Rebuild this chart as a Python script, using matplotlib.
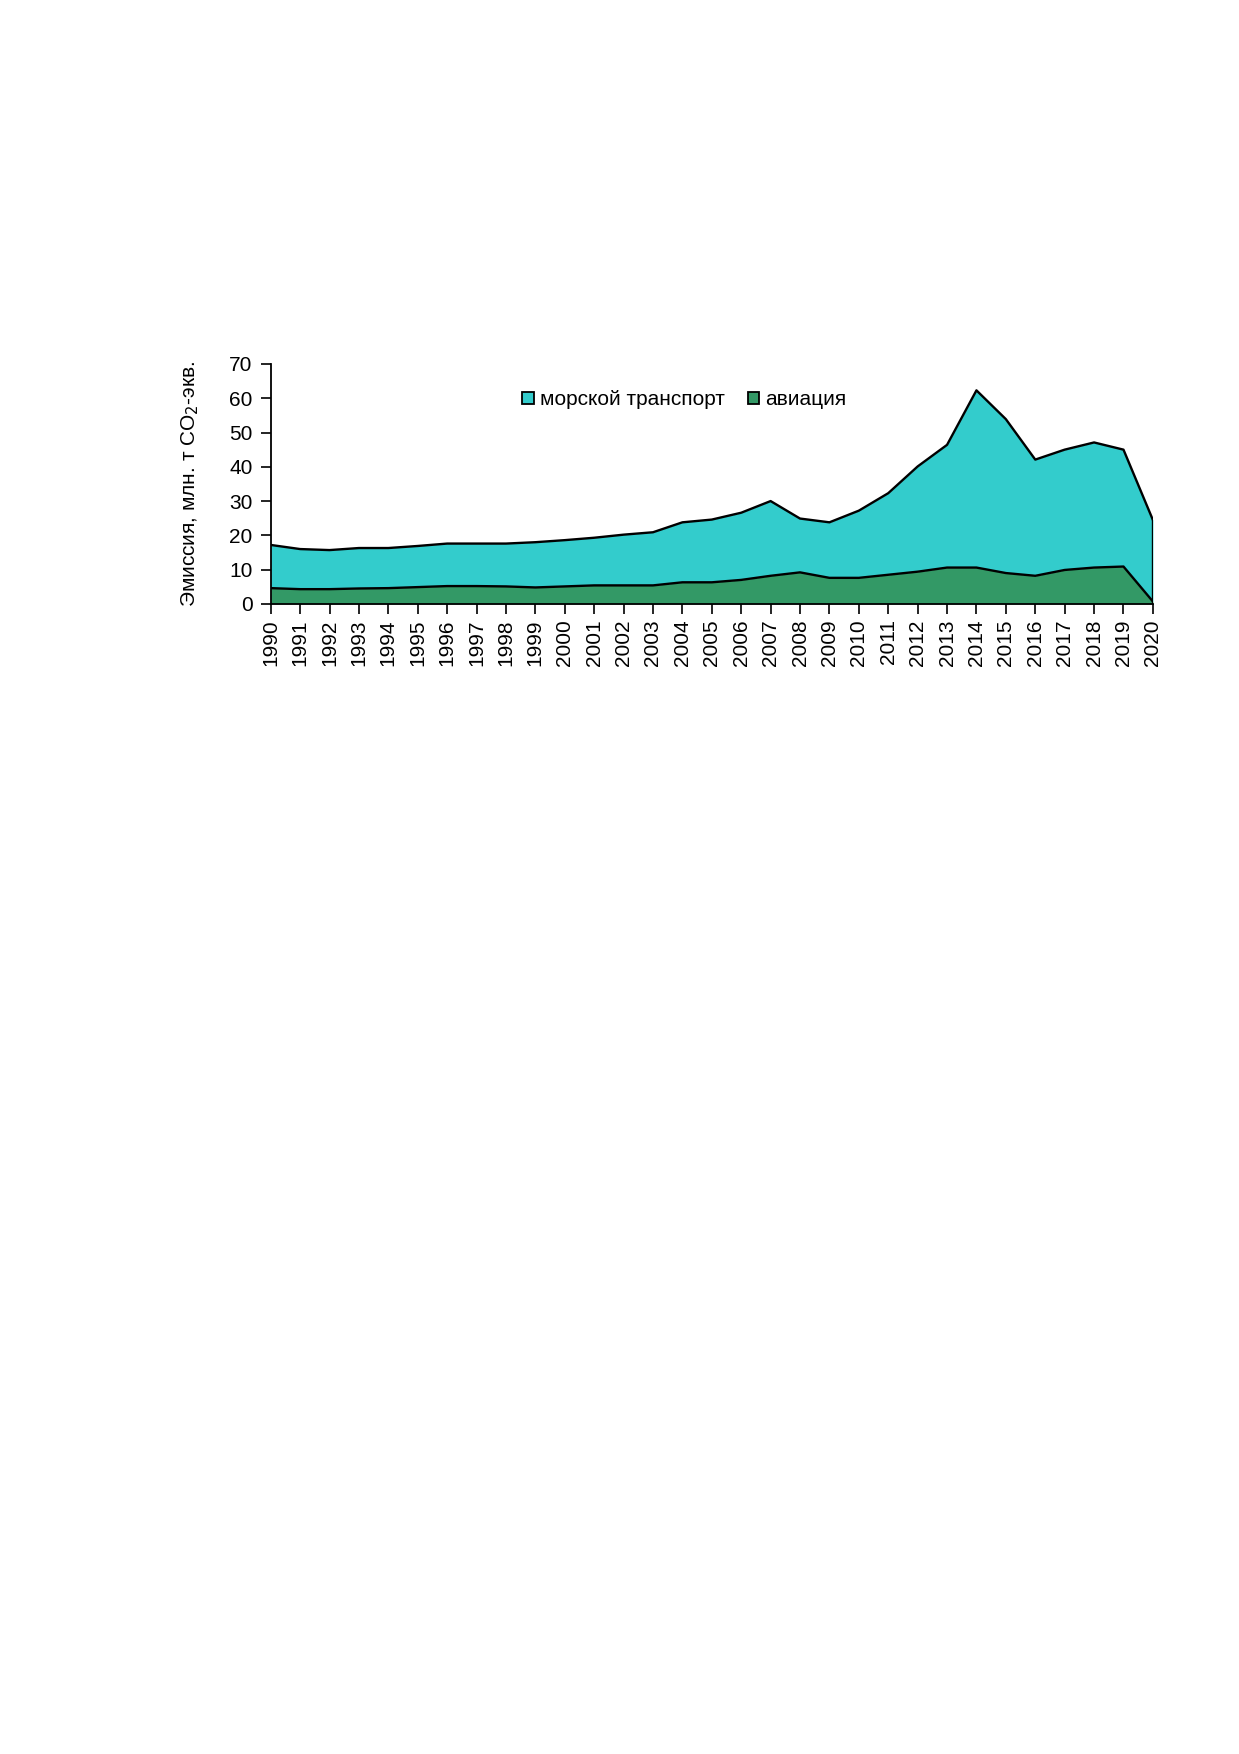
import numpy as np
import matplotlib
matplotlib.use("Agg")
import matplotlib.pyplot as plt
from matplotlib.patches import Patch

plt.rcParams['font.family'] = ['Liberation Sans', 'DejaVu Sans']

# данные (млн. т CO2-экв.)
years = list(range(1990, 2021))
aviation = [4.6, 4.3, 4.3, 4.5, 4.6, 4.9, 5.2, 5.2, 5.1, 4.8,
            5.1, 5.4, 5.4, 5.4, 6.3, 6.3, 7.0, 8.2, 9.2, 7.6,
            7.6, 8.5, 9.4, 10.6, 10.6, 9.0, 8.2, 9.9, 10.6, 10.9,
            0.7]
maritime = [12.6, 11.7, 11.4, 11.8, 11.7, 12.0, 12.4, 12.4, 12.5, 13.2,
            13.5, 13.9, 14.8, 15.5, 17.5, 18.3, 19.6, 21.8, 15.7, 16.2,
            19.6, 23.8, 30.7, 35.8, 51.7, 44.9, 33.9, 35.1, 36.5, 34.1,
            23.8]
labels = ['морской транспорт', 'авиация']
colors = ['#33CCCC', '#339966']

fig = plt.figure(figsize=(12.39, 17.54), dpi=100)
ax = fig.add_axes([0.2185, 0.6557, 0.712, 0.1368])

x = np.arange(len(years))
av = np.array(aviation)
total = av + np.array(maritime)
ax.fill_between(x, av, total, color=colors[0], linewidth=0)
ax.fill_between(x, 0, av, color=colors[1], linewidth=0)
ax.plot(x, total, color='black', lw=1.7)
ax.plot(x, av, color='black', lw=1.7)
ax.plot([x[-1], x[-1]], [0, total[-1]], color='black', lw=1.7)

ax.set_xlim(0, len(years) - 1)
ax.set_ylim(0, 70)
ax.set_yticks(range(0, 71, 10))
ax.set_xticks(x)
ax.set_xticklabels([str(y) for y in years], rotation=90)
ax.tick_params(labelsize=15, length=7, width=1.2, direction='out')
ax.tick_params(axis='y', pad=6)
ax.tick_params(axis='x', pad=4)
for s in ['top', 'right']:
    ax.spines[s].set_visible(False)
for s in ['left', 'bottom']:
    ax.spines[s].set_linewidth(1.3)

ax.set_ylabel('Эмиссия, млн. т CO$_2$-экв.', fontsize=15)
ax.yaxis.set_label_coords(-0.079, 0.5)

handles = [Patch(facecolor=c, edgecolor='black', lw=1.3) for c in colors]
ax.legend(handles, labels, loc='center', bbox_to_anchor=(0.469, 0.85), ncol=2,
          frameon=False, fontsize=15, handlelength=0.55, handleheight=0.55,
          handletextpad=0.3, columnspacing=1.1, borderpad=0)

fig.savefig('out.png', dpi=100)
